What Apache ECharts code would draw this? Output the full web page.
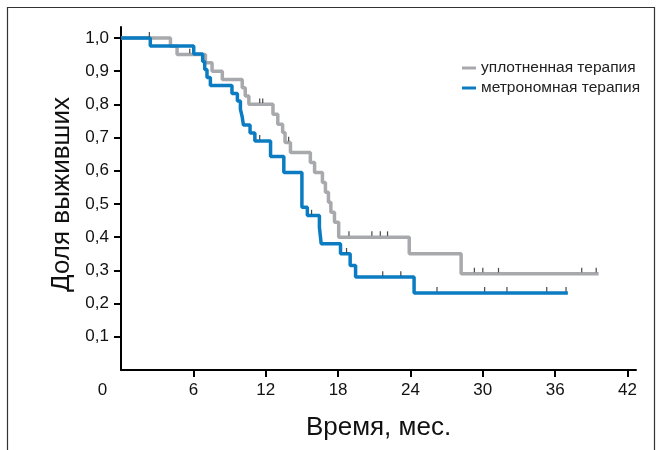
<!DOCTYPE html>
<html>
<head>
<meta charset="utf-8">
<script src="https://cdn.jsdelivr.net/npm/echarts@6/dist/echarts.min.js"></script>
<style>
  html, body { margin: 0; padding: 0; background: #fff; }
  #chart { width: 661px; height: 450px; }
</style>
</head>
<body>
<div id="chart"></div>
<script>
// Kaplan–Meier survival, two treatment arms
const seriesNames = ['уплотненная терапия', 'метрономная терапия'];

// event times (months) and survival level right after each event
const grayTimes = [4.1, 4.65, 7.0, 7.55, 8.4, 10.05, 10.3, 10.6, 12.6, 13.0, 13.4, 13.6, 14.05, 15.7, 16.05, 16.7, 16.95, 17.2, 17.4, 17.7, 18.05, 23.9, 28.2];
const graySurv  = [0.975, 0.95, 0.925, 0.90, 0.875, 0.85, 0.825, 0.80, 0.77, 0.74, 0.715, 0.685, 0.655, 0.625, 0.595, 0.565, 0.535, 0.505, 0.475, 0.445, 0.40, 0.35, 0.29];
const grayEnd = 39.6;
const grayCensored = [5.7, 11.5, 11.75, 13.9, 18.9, 20.8, 21.5, 22.1, 29.3, 30.0, 31.3, 38.2, 39.4];

const blueTimes = [2.43, 6.03, 6.77, 6.94, 7.13, 7.41, 9.2, 9.65, 9.9, 10.05, 10.15, 10.7, 11.1, 12.4, 13.5, 15.0, 15.45, 16.45, 16.6, 18.2, 19.0, 19.45, 24.3];
const blueSurv  = [0.976, 0.952, 0.929, 0.905, 0.881, 0.857, 0.833, 0.810, 0.786, 0.762, 0.738, 0.714, 0.690, 0.643, 0.595, 0.49, 0.465, 0.43, 0.38, 0.35, 0.315, 0.28, 0.232];
const blueEnd = 37.05;
const blueCensored = [2.35, 11.5, 15.8, 18.7, 21.7, 23.2, 26.2, 30.15, 32.0, 35.3, 36.9];

// axis ticks
const xTicks = [6, 12, 18, 24, 30, 36, 42];
const yTicks = [0.1, 0.2, 0.3, 0.4, 0.5, 0.6, 0.7, 0.8, 0.9, 1.0];

const FONT = '"Liberation Sans", Arial, Helvetica, sans-serif';
const GRAY = '#a8a9ac';
const BLUE = '#0b7cc2';

function stepPoints(times, surv, end) {
  const pts = [[0, 1]];
  times.forEach((t, i) => pts.push([t, surv[i]]));
  pts.push([end, surv[surv.length - 1]]);
  return pts;
}
function levelAt(times, surv, t) {
  let v = 1;
  for (let i = 0; i < times.length; i++) if (times[i] <= t) v = surv[i];
  return v;
}
function censorPoints(cens, times, surv) {
  return cens.map(t => [t, levelAt(times, surv, t)]);
}

const chart = echarts.init(document.getElementById('chart'), null, { renderer: 'canvas' });

const tickMark = {
  type: 'scatter',
  symbol: 'rect',
  symbolSize: [1.2, 4.5],
  symbolOffset: [0, -3.6],
  itemStyle: { color: '#1a1a1a' },
  z: 5,
  silent: true
};

chart.setOption({
  animation: false,
  backgroundColor: '#fff',
  textStyle: { fontFamily: FONT },
  graphic: [{
    type: 'rect',
    shape: { x: 7.5, y: 7.5, width: 647, height: 470 },
    style: { fill: 'none', stroke: '#333', lineWidth: 1.2 },
    silent: true
  }],
  grid: { left: 121, top: 27, right: 25, bottom: 80 },
  legend: {
    data: seriesNames,
    orient: 'vertical',
    left: 457,
    top: 55,
    icon: 'rect',
    itemWidth: 14,
    itemHeight: 3,
    itemGap: 4,
    textStyle: { fontSize: 15.5, color: '#222', fontFamily: FONT, lineHeight: 16 }
  },
  xAxis: {
    type: 'value',
    min: 0,
    max: 42.7,
    splitLine: { show: false },
    axisLine: { show: true, lineStyle: { color: '#000', width: 2 } },
    axisTick: { show: true, customValues: xTicks, length: 7, lineStyle: { color: '#000', width: 2 } },
    axisLabel: {
      customValues: [0].concat(xTicks),
      margin: 12,
      fontSize: 17,
      color: '#111',
      fontFamily: FONT,
      formatter: v => (v === 0 ? '{o|0}' : String(v)),
      rich: { o: { padding: [0, 37, 0, 0], fontSize: 17, color: '#111', fontFamily: FONT } }
    },
    name: 'Время, мес.',
    nameLocation: 'middle',
    nameGap: 45,
    nameTextStyle: { fontSize: 26, color: '#111', fontFamily: FONT }
  },
  yAxis: {
    type: 'value',
    min: 0,
    max: 1.033,
    splitLine: { show: false },
    axisLine: { show: true, lineStyle: { color: '#000', width: 2 } },
    axisTick: { show: true, customValues: yTicks, length: 7, lineStyle: { color: '#000', width: 2 } },
    axisLabel: {
      customValues: yTicks,
      margin: 12,
      fontSize: 17,
      color: '#111',
      fontFamily: FONT,
      formatter: v => v.toFixed(1).replace('.', ',')
    },
    name: 'Доля выживших',
    nameLocation: 'middle',
    nameGap: 43,
    nameTextStyle: { fontSize: 26, color: '#111', fontFamily: FONT, padding: [0, 0, 0, 8] }
  },
  series: [
    {
      name: seriesNames[0],
      type: 'line',
      step: 'end',
      showSymbol: false,
      symbol: 'none',
      data: stepPoints(grayTimes, graySurv, grayEnd),
      lineStyle: { color: GRAY, width: 3.5 },
      itemStyle: { color: GRAY },
      z: 3
    },
    {
      name: seriesNames[1],
      type: 'line',
      step: 'end',
      showSymbol: false,
      symbol: 'none',
      data: stepPoints(blueTimes, blueSurv, blueEnd),
      lineStyle: { color: BLUE, width: 3.5 },
      itemStyle: { color: BLUE },
      z: 4
    },
    Object.assign({ name: 'censored-gray', data: censorPoints(grayCensored, grayTimes, graySurv) }, tickMark),
    Object.assign({ name: 'censored-blue', data: censorPoints(blueCensored, blueTimes, blueSurv) }, tickMark)
  ]
});
</script>
</body>
</html>
